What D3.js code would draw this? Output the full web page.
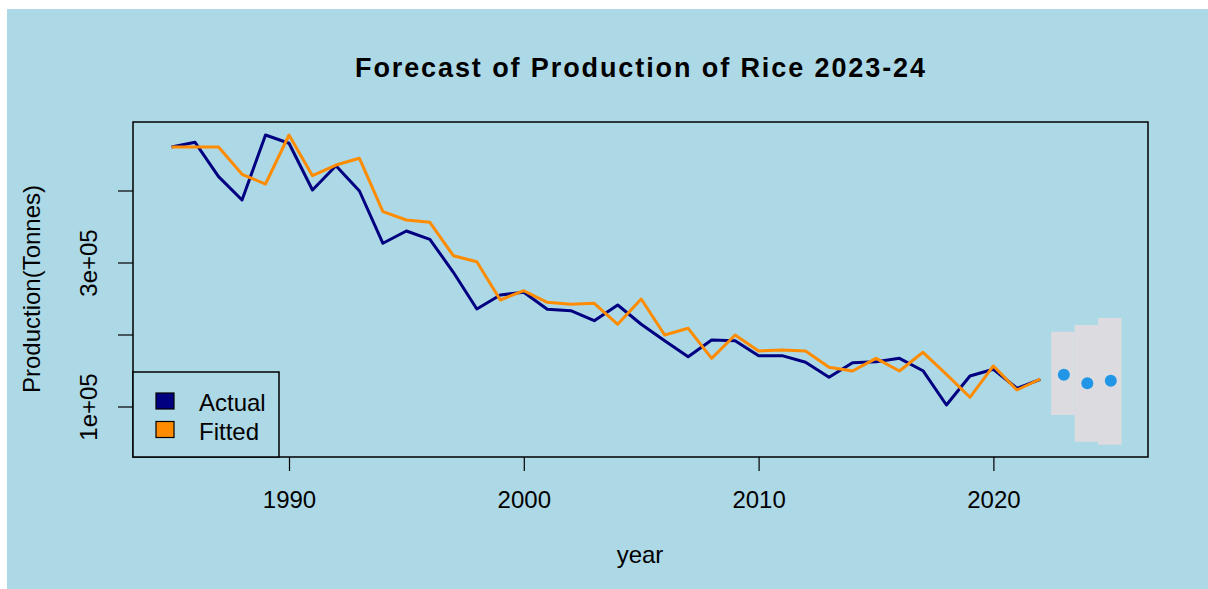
<!DOCTYPE html>
<html>
<head>
<meta charset="utf-8">
<script src="https://cdn.jsdelivr.net/npm/d3@7"></script>
<style>
  html, body { margin: 0; padding: 0; background: #ffffff; }
  svg { display: block; }
  text { font-family: "Liberation Sans", Arial, Helvetica, sans-serif; fill: #000; }
</style>
</head>
<body>
<svg id="chart" width="1208" height="589"></svg>
<script>
// ---------- data ----------
const years = [1985,1986,1987,1988,1989,1990,1991,1992,1993,1994,1995,1996,1997,1998,1999,
               2000,2001,2002,2003,2004,2005,2006,2007,2008,2009,2010,2011,2012,2013,2014,
               2015,2016,2017,2018,2019,2020,2021,2022];
const actual = [460400,466900,419200,386800,477100,465600,400700,434400,399300,326700,
                343800,332200,286400,235400,254900,258600,235000,233100,219200,241000,
                214200,191400,169200,192400,191400,170600,170600,161400,140600,160800,
                162200,166900,149700,102100,142400,151700,125300,137800];
const fitted = [460400,460400,460400,422500,409000,477100,420600,435400,444700,370600,
                359000,355800,309400,301100,247900,260800,244700,241900,243300,214200,
                249300,199300,208600,166900,199300,177100,178500,177100,154400,149300,
                166900,149300,175300,144700,112800,156300,122900,138200];
const forecastYears = [2023, 2024, 2025];
const forecastMean  = [144200, 132200, 135800];
const forecastLow   = [88200, 51100, 46900];
const forecastHigh  = [203900, 213200, 222900];

const xTickValues = [1990, 2000, 2010, 2020];
const yTickValues = [100000, 200000, 300000, 400000];
const yTickLabels = ["1e+05", "", "3e+05", ""];
const legendLabels = ["Actual", "Fitted"];
const seriesColors = ["#000080", "#FF8C00"];

// ---------- layout ----------
const svg = d3.select("#chart");
const W = 1208, H = 589;
const frame = {left: 133, right: 1148, top: 122, bottom: 457};

svg.append("rect").attr("x", 7).attr("y", 9).attr("width", W - 7).attr("height", H - 9)
   .attr("fill", "#ADD8E6");

// scales (calibrated from tick positions)
const x = d3.scaleLinear().domain([1990, 2020]).range([289, 993.4]);
const y = d3.scaleLinear().domain([100000, 400000]).range([406.5, 190.5]);

// forecast bands
const fc = forecastYears.map((yr, i) => ({yr, m: forecastMean[i], lo: forecastLow[i], hi: forecastHigh[i]}));
svg.append("g").selectAll("rect").data(fc).join("rect")
  .attr("x", d => x(d.yr - 0.5) - 1)
  .attr("width", d => x(d.yr + 0.5) - x(d.yr - 0.5))
  .attr("y", d => y(d.hi))
  .attr("height", d => y(d.lo) - y(d.hi))
  .attr("fill", "#DCDCE0");

// lines
const line = d3.line().x(d => x(d[0])).y(d => y(d[1]));
svg.append("path").datum(years.map((yr, i) => [yr, actual[i]]))
  .attr("d", line).attr("fill", "none").attr("stroke", seriesColors[0])
  .attr("stroke-width", 3).attr("stroke-linejoin", "round");
svg.append("path").datum(years.map((yr, i) => [yr, fitted[i]]))
  .attr("d", line).attr("fill", "none").attr("stroke", seriesColors[1])
  .attr("stroke-width", 3).attr("stroke-linejoin", "round");

// forecast points
svg.append("g").selectAll("circle").data(fc).join("circle")
  .attr("cx", d => x(d.yr)).attr("cy", d => y(d.m)).attr("r", 6)
  .attr("fill", "#2196E6");

// frame
svg.append("rect").attr("x", frame.left).attr("y", frame.top)
  .attr("width", frame.right - frame.left).attr("height", frame.bottom - frame.top)
  .attr("fill", "none").attr("stroke", "#000").attr("stroke-width", 1.5);

// x axis
const xAxis = svg.append("g").attr("transform", `translate(0,${frame.bottom})`)
  .call(d3.axisBottom(x).tickValues(xTickValues).tickFormat(d3.format("d")).tickSize(14));
xAxis.select(".domain").remove();
xAxis.selectAll(".tick line").attr("stroke", "#000").attr("stroke-width", 1.2);
xAxis.selectAll(".tick text").attr("y", 51).attr("dy", 0)
  .style("font-size", "24px").style("font-family", '"Liberation Sans", Arial, sans-serif').attr("fill", "#000");

// y axis
const yAxis = svg.append("g").attr("transform", `translate(${frame.left},0)`)
  .call(d3.axisLeft(y).tickValues(yTickValues).tickFormat((d, i) => yTickLabels[i]).tickSize(15));
yAxis.select(".domain").remove();
yAxis.selectAll(".tick line").attr("stroke", "#000").attr("stroke-width", 1.2);
yAxis.selectAll(".tick text").attr("x", 0).attr("dy", 0)
  .attr("transform", "translate(-36,0) rotate(-90)")
  .attr("text-anchor", "middle")
  .style("font-size", "24px").style("font-family", '"Liberation Sans", Arial, sans-serif').attr("fill", "#000");

// title
svg.append("text").attr("x", 640).attr("y", 77).attr("text-anchor", "middle")
  .attr("textLength", 570).attr("lengthAdjust", "spacing")
  .style("font-size", "27px").style("font-weight", "bold")
  .text("Forecast of Production of Rice 2023-24");

// axis titles
svg.append("text").attr("x", 640).attr("y", 563).attr("text-anchor", "middle")
  .style("font-size", "24px").text("year");
svg.append("text").attr("transform", "translate(40,289) rotate(-90)").attr("text-anchor", "middle")
  .style("font-size", "24px").text("Production(Tonnes)");

// legend
const lg = svg.append("g");
lg.append("rect").attr("x", frame.left).attr("y", 372).attr("width", 279 - frame.left).attr("height", frame.bottom - 372)
  .attr("fill", "#ADD8E6").attr("stroke", "#000").attr("stroke-width", 1.5);
legendLabels.forEach((lab, i) => {
  const yy = 393 + i * 28.5;
  lg.append("rect").attr("x", 156).attr("y", yy).attr("width", 18).attr("height", 16)
    .attr("fill", seriesColors[i]).attr("stroke", "#000").attr("stroke-width", 1.2);
  lg.append("text").attr("x", 199).attr("y", yy + 18).style("font-size", "24px").text(lab);
});
</script>
</body>
</html>
